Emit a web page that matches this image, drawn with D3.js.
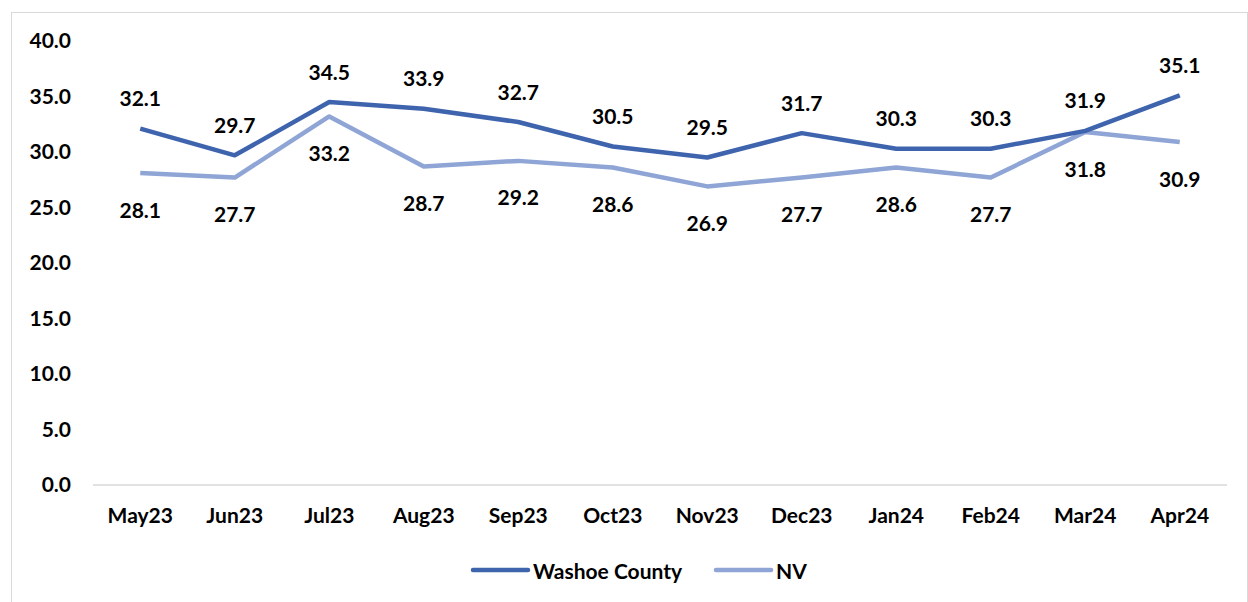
<!DOCTYPE html>
<html><head><meta charset="utf-8">
<script src="https://cdn.jsdelivr.net/npm/d3@7"></script>
<style>body{margin:0;background:#fff}svg{display:block}text{font-family:Lato,"Open Sans",sans-serif;font-weight:700;fill:#000}</style>
</head><body>
<script>
const categories=["May23","Jun23","Jul23","Aug23","Sep23","Oct23","Nov23","Dec23","Jan24","Feb24","Mar24","Apr24"];
const washoe=[32.1,29.7,34.5,33.9,32.7,30.5,29.5,31.7,30.3,30.3,31.9,35.1];
const nv=[28.1,27.7,33.2,28.7,29.2,28.6,26.9,27.7,28.6,27.7,31.8,30.9];
const yTicks=[0,5,10,15,20,25,30,35,40];
const seriesNames=["Washoe County","NV"];
const colors=["#3F64AE","#8FA5D6"];

const FS="21px";
const W=1248,H=602;
const svg=d3.select("body").append("svg").attr("width",W).attr("height",H);
svg.append("rect").attr("x",11.5).attr("y",12.5).attr("width",W-12).attr("height",H-12).attr("fill","#fff").attr("stroke","#d9d9d9");
const x=d3.scaleBand().domain(categories).range([93,1227]);
const y=d3.scaleLinear().domain([0,40]).range([485,41]);

svg.append("line").attr("x1",93).attr("x2",1227).attr("y1",y(0)).attr("y2",y(0)).attr("stroke","#d9d9d9").attr("stroke-width",1.5);
const yAxis=svg.append("g").attr("transform","translate(71,0)").call(d3.axisLeft(y).tickValues(yTicks).tickFormat(d3.format(".1f")).tickSize(0).tickPadding(0));
yAxis.select(".domain").remove();
yAxis.selectAll("text").style("font-size",FS).style("font-family","Lato").attr("font-weight",700).attr("fill","#000");
const xAxis=svg.append("g").attr("transform","translate(0,508)").call(d3.axisBottom(x).tickSize(0).tickPadding(0));
xAxis.select(".domain").remove();
xAxis.selectAll("text").style("font-size",FS).style("font-family","Lato").attr("font-weight",700).attr("fill","#000");

const cx=d=>x(d)+x.bandwidth()/2;
const line=d3.line().x((d,i)=>cx(categories[i])).y(d=>y(d));
[nv,washoe].forEach((s,k)=>{
  const c=s===washoe?colors[0]:colors[1];
  svg.append("path").attr("d",line(s)).attr("fill","none").attr("stroke",c).attr("stroke-width",4.5).attr("stroke-linejoin","round");
});
svg.selectAll(".lw").data(washoe).enter().append("text").attr("x",(d,i)=>cx(categories[i])).attr("y",d=>y(d)-31).attr("text-anchor","middle").attr("dominant-baseline","central").style("font-size",FS).text(d=>d.toFixed(1));
svg.selectAll(".ln").data(nv).enter().append("text").attr("x",(d,i)=>cx(categories[i])).attr("y",d=>y(d)+36).attr("text-anchor","middle").attr("dominant-baseline","central").style("font-size",FS).text(d=>d.toFixed(1));

const leg=[{n:seriesNames[0],c:colors[0],x:473},{n:seriesNames[1],c:colors[1],x:716}];
leg.forEach(l=>{
  svg.append("line").attr("x1",l.x).attr("x2",l.x+55).attr("y1",570).attr("y2",570).attr("stroke",l.c).attr("stroke-width",4.5).attr("stroke-linecap","round");
  svg.append("text").attr("x",l.x+60).attr("y",570).attr("dominant-baseline","central").style("font-size",FS).text(l.n);
});
</script></body></html>
